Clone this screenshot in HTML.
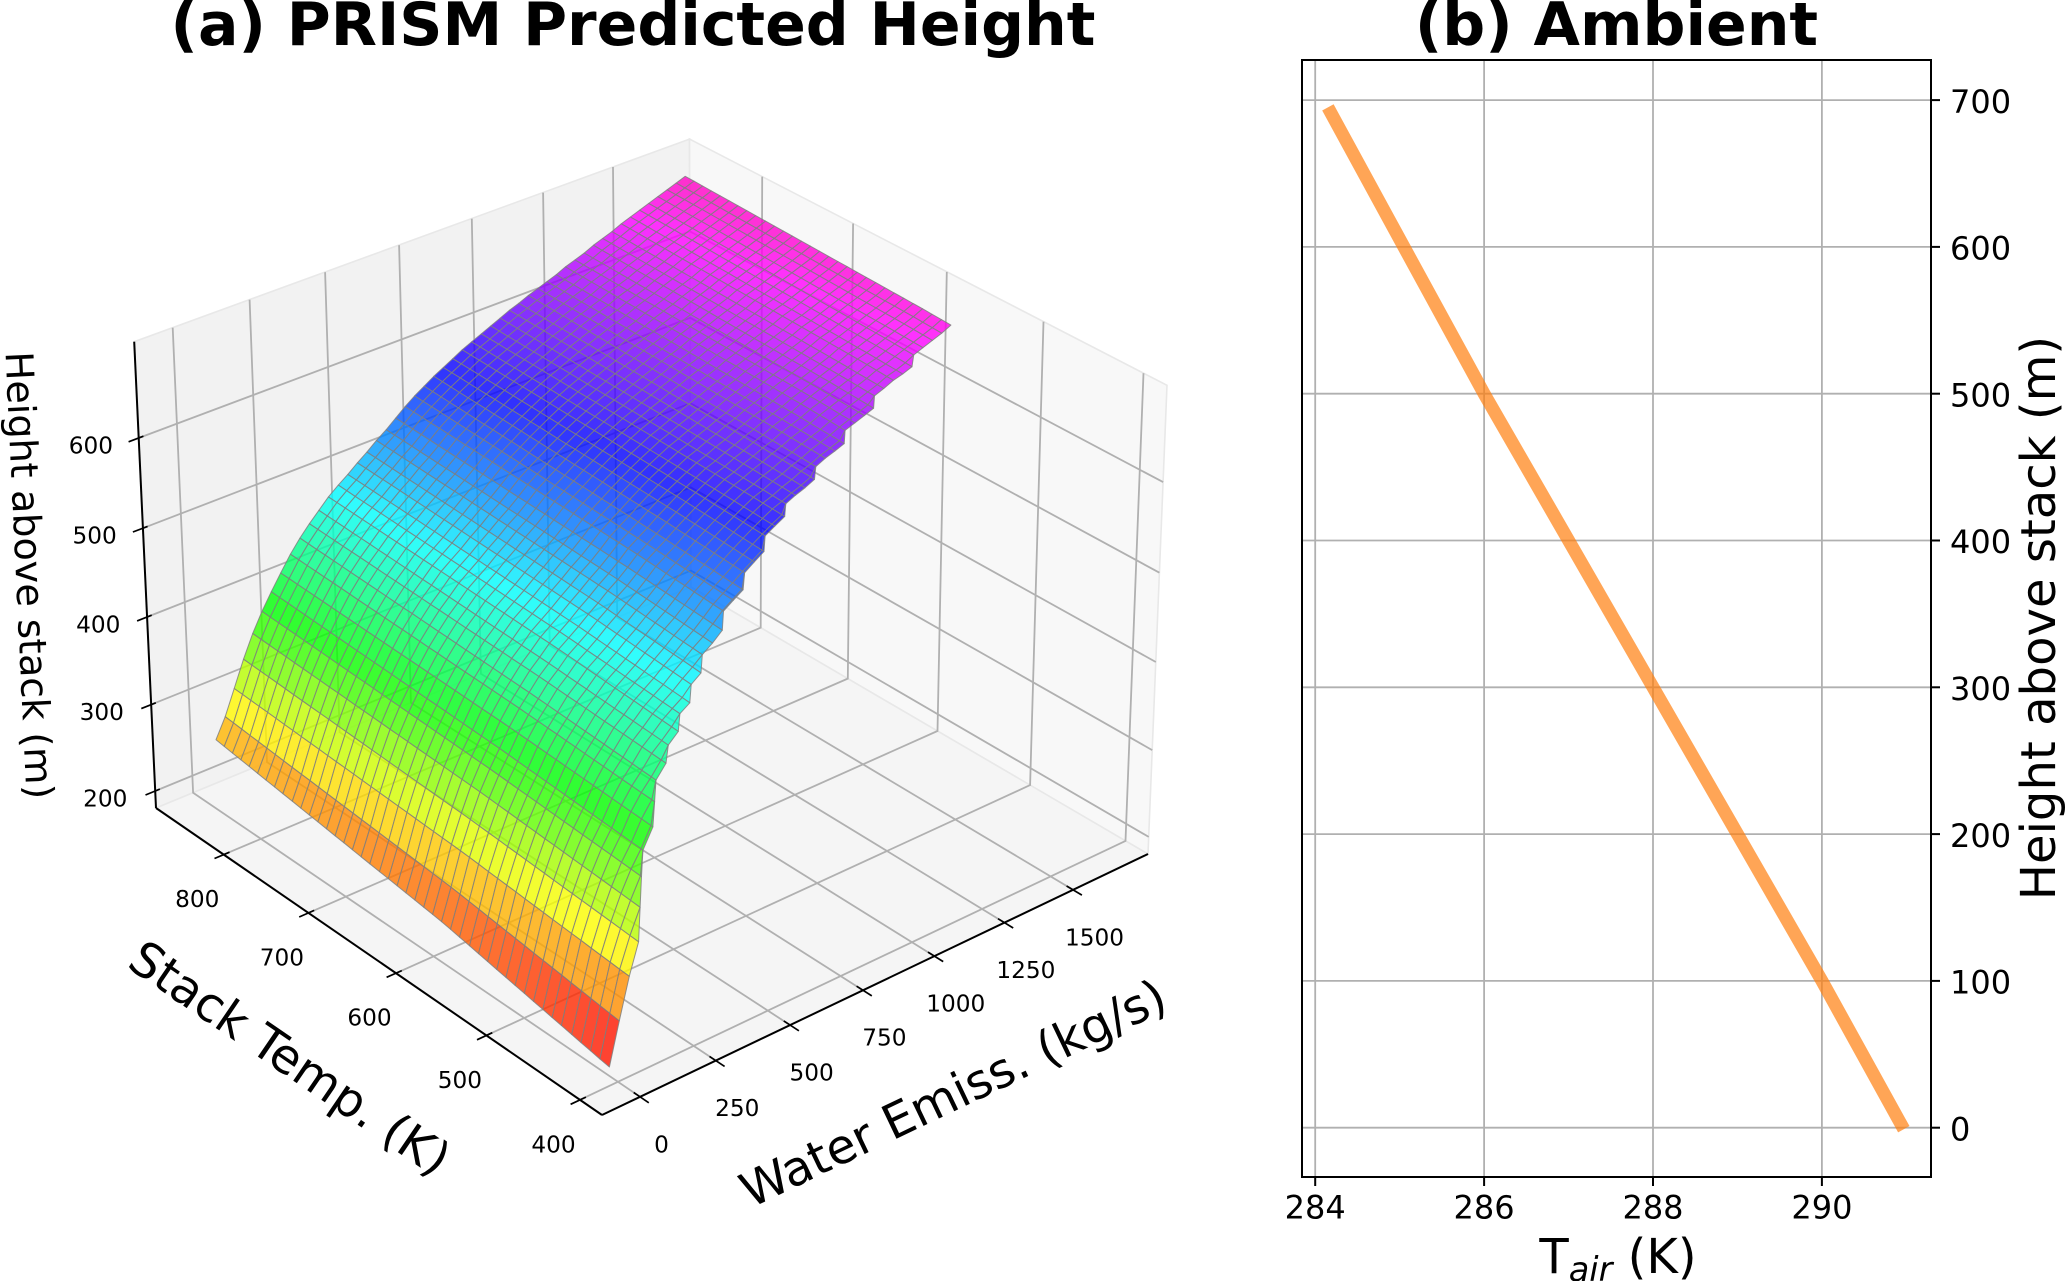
<!DOCTYPE html>
<html lang="en">
<head>
<meta charset="utf-8">
<title>PRISM Predicted Height and Ambient Profile</title>
<style>
html,body{margin:0;padding:0;background:#fff;}
svg{display:block;font-family:"DejaVu Sans","Liberation Sans",sans-serif;}
text{fill:#000;}
</style>
</head>
<body>
<svg id="figure" xmlns="http://www.w3.org/2000/svg" width="2067" height="1281" viewBox="0 0 2067 1281">
  <rect x="0" y="0" width="2067" height="1281" fill="#fff"/>
  <g id="panel-a"></g>
  <g id="panel-b"></g>
  <text x="633" y="45" text-anchor="middle" font-size="60" font-weight="bold">(a) PRISM Predicted Height</text>
  <text x="1616.5" y="45" text-anchor="middle" font-size="60" font-weight="bold">(b) Ambient</text>
  <text font-size="38.2" text-anchor="middle" transform="translate(16 576) rotate(87.3)">Height above stack (m)</text>
  <text font-size="48" text-anchor="middle" transform="translate(290 1058) rotate(34.3)" dy="17">Stack Temp. (K)</text>
  <text font-size="48" text-anchor="middle" transform="translate(953 1093) rotate(-25.5)" dy="17">Water Emiss. (kg/s)</text>
  <text x="1618" y="1273" font-size="48" text-anchor="middle">T<tspan font-size="33.6" font-style="italic" dy="8">air</tspan><tspan dy="-8"> (K)</tspan></text>
  <text font-size="48.1" text-anchor="middle" transform="translate(2055 618) rotate(-90)">Height above stack (m)</text>
</svg>
<script>
// ---- Panel (a) data: stack-plume height surface ----
const waterTicks = [0, 250, 500, 750, 1000, 1250, 1500];
const tempTicks = [400, 500, 600, 700, 800];
const heightTicks = [200, 300, 400, 500, 600];
const waterLevels = [31,64,97,131,164,197,230,263,297,330,363,396,429,463,496,529,562,595,629,662,695,728,761,795,828,861,894,927,961,994,1027,1060,1093,1127,1160,1193,1226,1259,1293,1326,1359,1392,1425,1459,1492,1525,1558,1591,1625,1658,1691];
const tempLevels = [419,429,439,449,459,470,480,490,500,510,520,530,540,550,560,570,581,591,601,611,621,631,641,651,661,671,682,692,702,712,722,732,742,752,762,772,783,793,803,813,823,833,843,853,863];
const tempAnchors = [420, 600, 863];
const heightCold = [178,224,268,300,326,348,365,386,402,414,428,437,447,455,462,471,479,488,496,506,516,524,531,539,547,554,562,569,575,579,584,588,593,597,602,605,609,613,617,621,625,629,633,637,640,644,648,652,656,660,665];
const heightMid = [214,248,284,314,340,361,379,398,414,427,440,450,461,469,477,486,494,503,511,520,530,537,544,552,559,566,572,578,584,588,593,597,602,606,611,615,619,624,628,632,636,640,644,649,652,656,660,664,668,672,677];
const heightHot = [250,272,300,329,354,375,393,410,427,441,453,464,475,484,492,501,509,518,526,535,544,552,559,566,572,578,584,589,594,599,604,609,613,618,622,626,630,635,639,643,648,652,656,661,665,669,673,677,681,685,689];
const rowStartTemp = [419,419,419,420,429,438,447,447,456,465,465,473,473,482,482,491,491,500,500,500,509,509,509,518,518,518,527,527,527,536,536,536,536,545,545,545,545,554,554,554,554,563,563,563,563,563,571,571,571,571,571];

// ---- Panel (b) data: ambient temperature profile ----
const ambientTemps = [290.97, 290, 289, 288, 287, 286, 285.05, 284.15];
const ambientHeights = [-1, 100, 200, 300, 400, 500, 600, 695];
const ambientXTicks = [284, 286, 288, 290];
const ambientYTicks = [0, 100, 200, 300, 400, 500, 600, 700];

const NS = 'http://www.w3.org/2000/svg';
function svgEl(tag, attrs, parent) {
  const el = document.createElementNS(NS, tag);
  for (const k in attrs) el.setAttribute(k, attrs[k]);
  parent.appendChild(el);
  return el;
}

// ---- 3D axis functions ----
const uOf = w => 0.0649 + w / 1500 * 0.7887;
const vOf = t => 0.0456 + (t - 400) / 400 * 0.7915;
const wOf = z => 0.0378 + (z - 200) / 400 * 0.7618;
function project(u, v, w) {
  const den = 1 + 0.0778 * u + 0.087 * v - 0.04 * w;
  const x = 602 + 635.3 * u - 432.4 * v - 26.2 * w;
  const y = 1115 - 194.6 * u - 236.7 * v - 520.5 * w;
  return [x / den, y / den];
}
function projectFrame(u, v, w) {
  const p = project(u, v, w);
  return [p[0] - 2.8 * v * w, p[1] - 6 * u * v * w];
}
const fmt = p => p[0].toFixed(1) + ',' + p[1].toFixed(1);
const line3 = pts => pts.map(p => fmt(projectFrame(p[0], p[1], p[2]))).join(' ');

function heightAt(row, temp) {
  if (temp <= tempAnchors[1]) {
    const f = Math.max(0, (temp - tempAnchors[0]) / (tempAnchors[1] - tempAnchors[0]));
    return heightCold[row] + f * (heightMid[row] - heightCold[row]);
  }
  const f = (temp - tempAnchors[1]) / (tempAnchors[2] - tempAnchors[1]);
  return heightMid[row] + f * (heightHot[row] - heightMid[row]);
}

function gistRainbow(t) {
  const stops = [[0,255,0,41],[0.03,255,0,0],[0.215,255,255,0],[0.4,0,255,0],[0.586,0,255,255],[0.77,0,0,255],[0.954,255,0,255],[1,255,0,191]];
  t = Math.min(1, Math.max(0, t));
  for (let i = 0; i < stops.length - 1; i++) {
    const a = stops[i], b = stops[i + 1];
    if (t <= b[0]) {
      const f = (t - a[0]) / (b[0] - a[0]);
      return 'rgb(' + [1, 2, 3].map(k => Math.round(a[k] + f * (b[k] - a[k]))).join(',') + ')';
    }
  }
  return 'rgb(255,0,191)';
}

const panelA = document.getElementById('panel-a');

// panes
const panes = [
  ['left-wall-pane', '#f2f2f2', [[0,1,0],[1,1,0],[1,1,1],[0,1,1]]],
  ['right-wall-pane', '#f8f8f8', [[1,0,0],[1,1,0],[1,1,1],[1,0,1]]],
  ['floor-pane', '#f5f5f5', [[0,0,0],[1,0,0],[1,1,0],[0,1,0]]]
];
panes.forEach(p => {
  const el = svgEl('polygon', {points: line3(p[2]), fill: p[1], stroke: '#e8e8e8', 'stroke-width': 1.6}, panelA);
  
  
});

// grid
const gridStyle = {fill: 'none', stroke: '#b0b0b0', 'stroke-width': 1.8};
waterTicks.forEach(val => {
  const u = uOf(val);
  const el = svgEl('polyline', Object.assign({points: line3([[u,0,0],[u,1,0],[u,1,1]])}, gridStyle), panelA);
  
  
});
tempTicks.forEach(val => {
  const v = vOf(val);
  const el = svgEl('polyline', Object.assign({points: line3([[0,v,0],[1,v,0],[1,v,1]])}, gridStyle), panelA);
  
  
});
heightTicks.forEach(val => {
  const w = wOf(val);
  const el = svgEl('polyline', Object.assign({points: line3([[0,1,w],[1,1,w],[1,0,w]])}, gridStyle), panelA);
  
  
});

// surface
const surface = svgEl('g', {}, panelA);


const zLow = Math.min.apply(null, heightCold);
const zHigh = Math.max.apply(null, heightHot);
for (let i = waterLevels.length - 2; i >= 0; i--) {
  for (let j = tempLevels.length - 2; j >= 0; j--) {
    const t0 = tempLevels[j], t1 = tempLevels[j + 1];
    const si = rowStartTemp[i], sn = rowStartTemp[i + 1];
    if (t1 <= Math.min(si, sn)) continue;
    const corners = [
      [i, Math.max(t0, si)],
      [i, Math.max(t1, si)],
      [i + 1, Math.max(t1, sn)],
      [i + 1, Math.max(t0, sn)]
    ];
    let sum = 0;
    const pts = corners.map(c => {
      const z = heightAt(c[0], c[1]);
      sum += z;
      return fmt(project(uOf(waterLevels[c[0]]), vOf(c[1]), wOf(z)));
    }).join(' ');
    const cell = svgEl('polygon', {
      points: pts,
      fill: gistRainbow((sum / 4 - zLow) / (zHigh - zLow)),
      'fill-opacity': 0.8,
      stroke: '#808080',
      'stroke-opacity': 0.85,
      'stroke-width': 1,
      'stroke-linejoin': 'round'
    }, surface);
    
    
  }
}

// axis lines
const axisStyle = {fill: 'none', stroke: '#000', 'stroke-width': 2};
const axisDefs = [
  ['water-axis-line', [[0,0,0],[1,0,0]]],
  ['temp-axis-line', [[0,0,0],[0,1,0]]],
  ['height-axis-line', [[0,1,0],[0,1,1]]]
];
axisDefs.forEach(a => {
  const el = svgEl('polyline', Object.assign({points: line3(a[1])}, axisStyle), panelA);
  
  
});

function tickLabel(parent, x, y, str, size, anchor) {
  const t = svgEl('text', {x: x.toFixed(1), y: y.toFixed(1), 'font-size': size, 'text-anchor': anchor, dy: '0.365em'}, parent);
  t.textContent = str;
  return t;
}

// ticks + labels on the 3D axes
waterTicks.forEach(val => {
  const u = uOf(val);
  const el = svgEl('polyline', {points: line3([[u,0.013,0],[u,-0.018,0]]), stroke: '#000', 'stroke-width': 1.7}, panelA);
  
  
  const p = project(u, 0, 0);
  const t = tickLabel(panelA, p[0] + 21.5, p[1] + 47, String(val), 23.2, 'middle');
  
  
});
tempTicks.forEach(val => {
  const v = vOf(val);
  const el = svgEl('polyline', {points: line3([[0.010,v,0],[-0.016,v,0]]), stroke: '#000', 'stroke-width': 1.7}, panelA);
  
  
  const p = project(0, v, 0);
  const t = tickLabel(panelA, p[0] - 26.5, p[1] + 44, String(val), 23.2, 'middle');
  
  
});
heightTicks.forEach(val => {
  const w = wOf(val);
  const el = svgEl('polyline', {points: line3([[0.008,1,w],[-0.017,1,w]]), stroke: '#000', 'stroke-width': 1.7}, panelA);
  
  
  const p = project(0, 1, w);
  const t = tickLabel(panelA, p[0] - 50, p[1] + 7, String(val), 23.2, 'middle');
  
  
});

// ---- Panel (b) ----
const panelB = document.getElementById('panel-b');
const frame = {left: 1302, right: 1931, top: 60, bottom: 1177};
const xScale = t => 1315.2 + (t - 284) * 84.45;
const yScale = h => 1127.7 - h * 1.468;

ambientXTicks.forEach(val => {
  const x = xScale(val);
  const g = svgEl('line', {x1: x, x2: x, y1: frame.top, y2: frame.bottom, stroke: '#b0b0b0', 'stroke-width': 1.8}, panelB);
  
  
  const k = svgEl('line', {x1: x, x2: x, y1: frame.bottom, y2: frame.bottom + 9, stroke: '#000', 'stroke-width': 2}, panelB);
  
  
  const t = tickLabel(panelB, x, 1207, String(val), 32, 'middle');
  
  
});
ambientYTicks.forEach(val => {
  const y = yScale(val);
  const g = svgEl('line', {x1: frame.left, x2: frame.right, y1: y, y2: y, stroke: '#b0b0b0', 'stroke-width': 1.8}, panelB);
  
  
  const k = svgEl('line', {x1: frame.right, x2: frame.right + 9, y1: y, y2: y, stroke: '#000', 'stroke-width': 2}, panelB);
  
  
  const t = tickLabel(panelB, 1950, y + 1, String(val), 32, 'start');
  
  
});
const profile = svgEl('polyline', {
  points: ambientTemps.map((t, i) => xScale(t).toFixed(1) + ',' + yScale(ambientHeights[i]).toFixed(1)).join(' '),
  fill: 'none', stroke: '#ff7f0e', 'stroke-opacity': 0.7, 'stroke-width': 13, 'stroke-linecap': 'butt', 'stroke-linejoin': 'round'
}, panelB);


const border = svgEl('rect', {x: frame.left, y: frame.top, width: frame.right - frame.left, height: frame.bottom - frame.top, fill: 'none', stroke: '#000', 'stroke-width': 2}, panelB);


</script>
</body>
</html>
